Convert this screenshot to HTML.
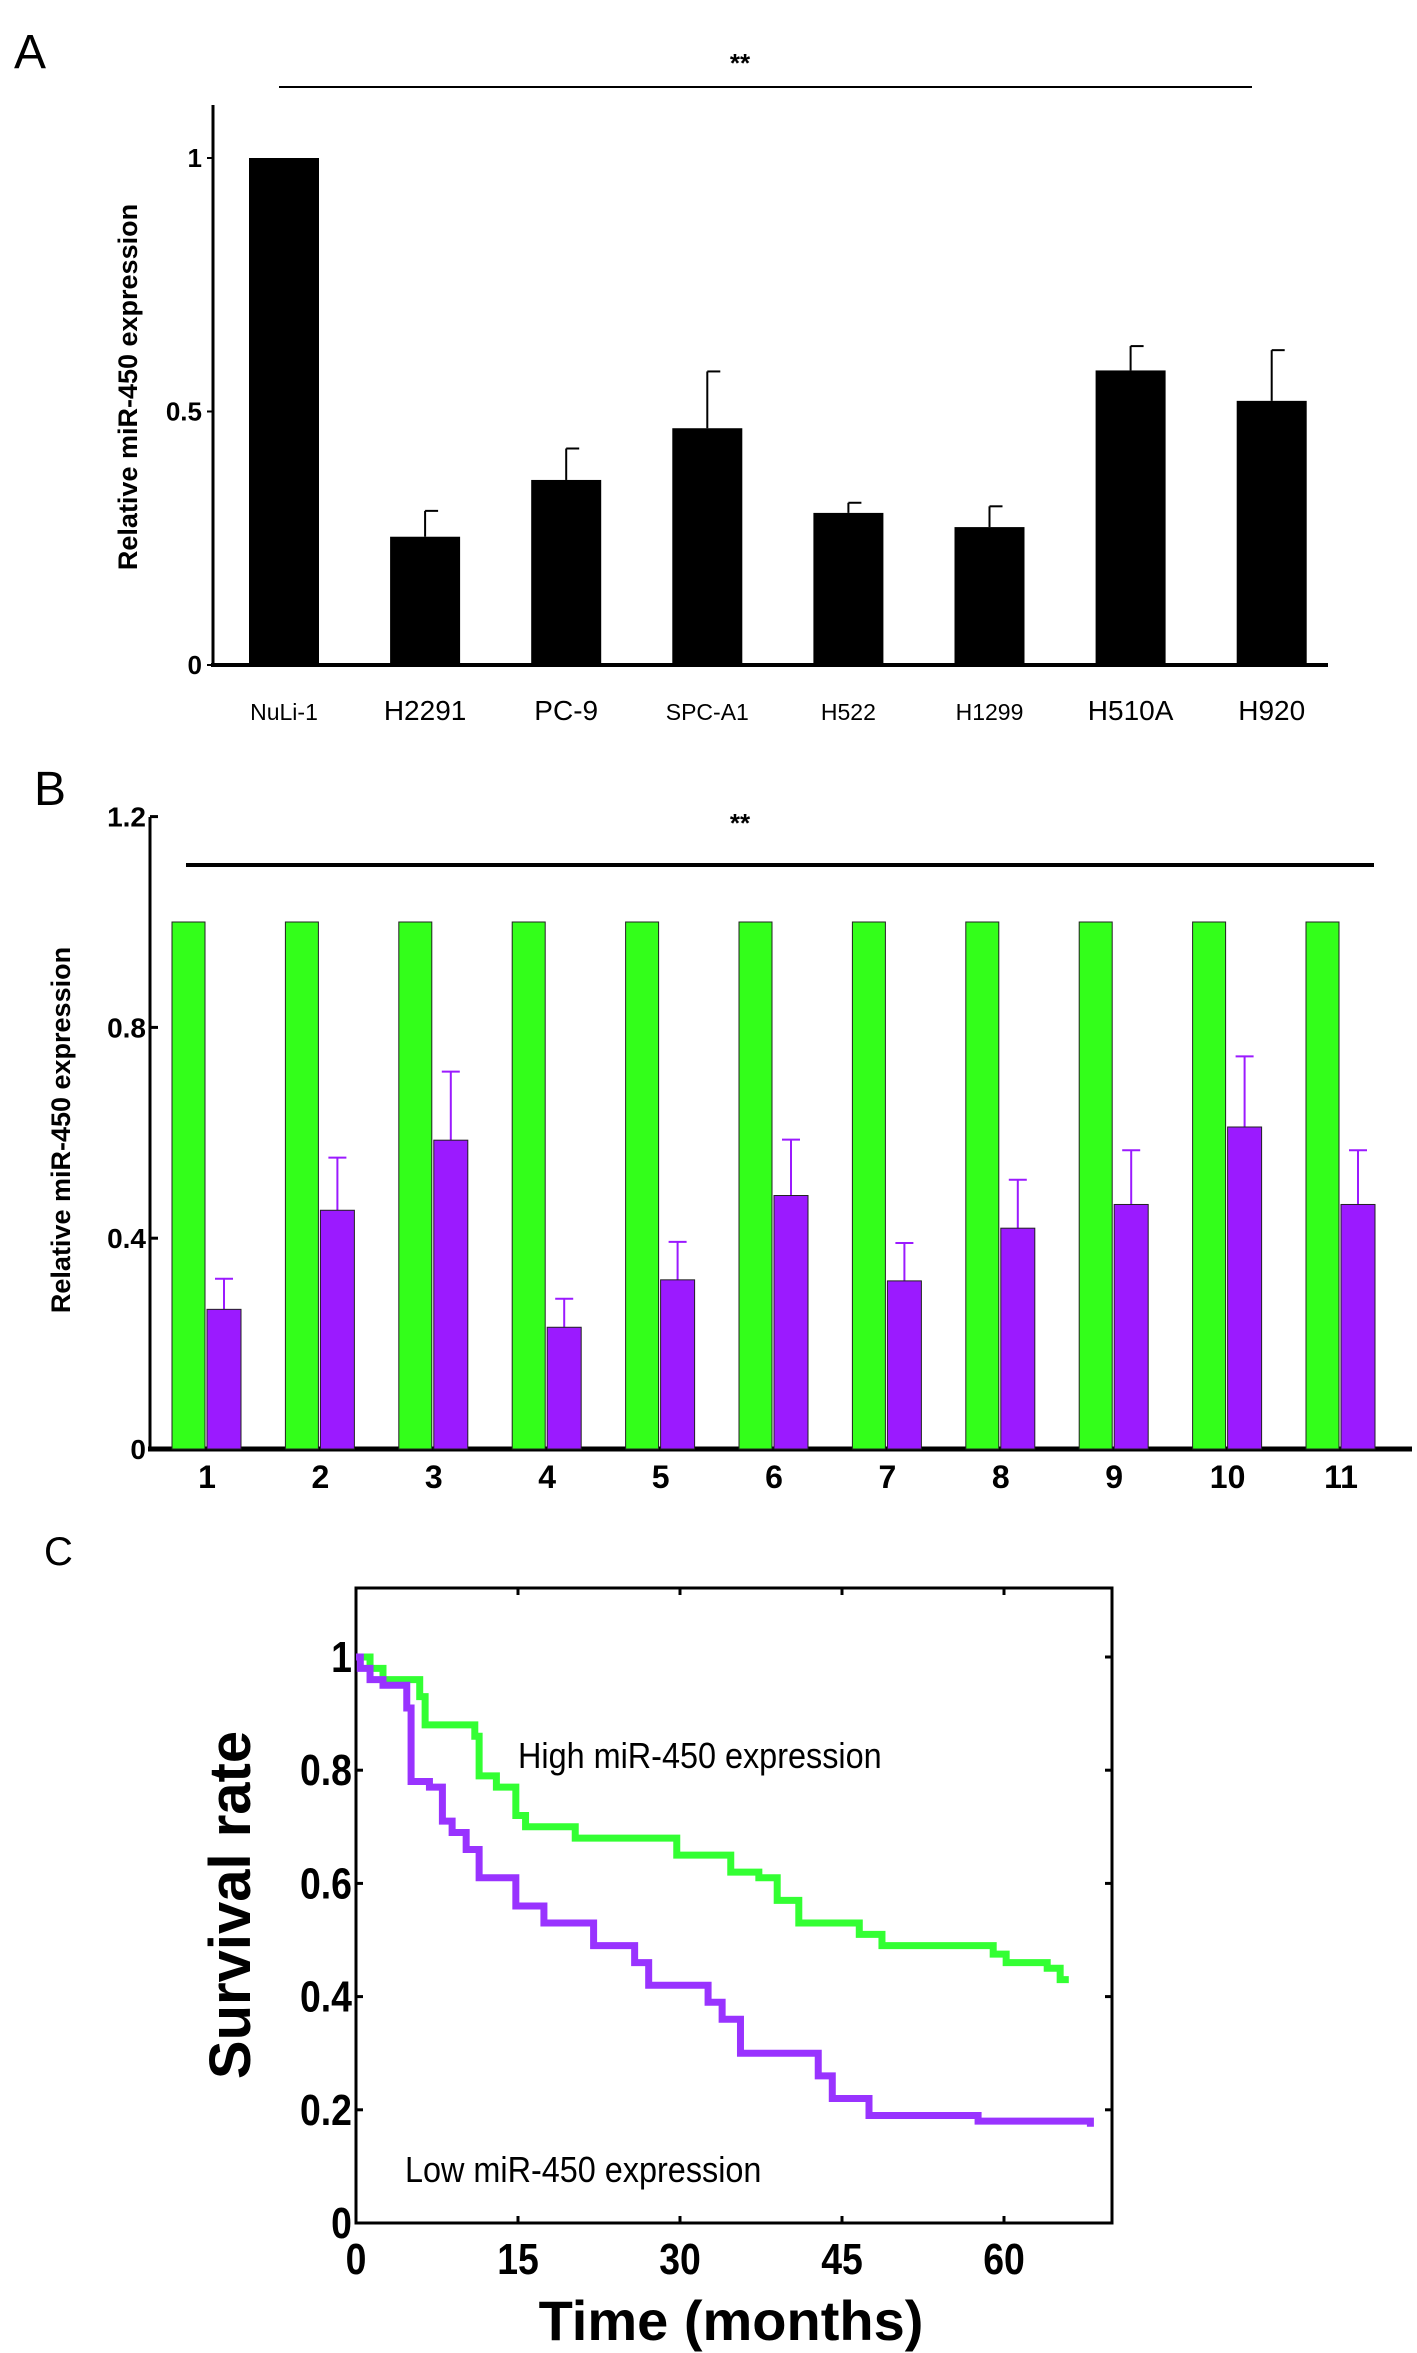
<!DOCTYPE html>
<html><head><meta charset="utf-8"><style>
html,body{margin:0;padding:0;background:#fff}
svg{display:block}
text{font-family:"Liberation Sans",sans-serif}
</style></head><body>
<svg id="fig" width="1417" height="2353" viewBox="0 0 1417 2353">
<g id="pA">
<text x="14" y="68" font-size="48">A</text>
<line x1="279" y1="87" x2="1252" y2="87" stroke="#000" stroke-width="2"/>
<text x="740" y="72" font-size="26" font-weight="bold" text-anchor="middle">**</text>
<text transform="translate(137,387) rotate(-90)" font-size="27" font-weight="bold" text-anchor="middle">Relative miR-450 expression</text>
</g>
<g id="pB">
<text x="34" y="805" font-size="48">B</text>
<line x1="186" y1="865" x2="1374" y2="865" stroke="#000" stroke-width="4"/>
<text x="740" y="832" font-size="26" font-weight="bold" text-anchor="middle">**</text>
<text transform="translate(70,1130) rotate(-90)" font-size="27" font-weight="bold" text-anchor="middle">Relative miR-450 expression</text>
</g>
<g id="pC">
<text x="44" y="1565" font-size="40">C</text>
<text x="518" y="1768" font-size="36" transform="translate(518,0) scale(0.9,1) translate(-518,0)">High miR-450 expression</text>
<text x="405" y="2182" font-size="36" transform="translate(405,0) scale(0.9,1) translate(-405,0)">Low miR-450 expression</text>
<text transform="translate(250,1905) rotate(-90)" font-size="58" font-weight="bold" text-anchor="middle">Survival rate</text>
<text x="731" y="2340" font-size="56" font-weight="bold" text-anchor="middle">Time (months)</text>
</g>
</svg>
<script>
const NS="http://www.w3.org/2000/svg";
const aCats=["NuLi-1","H2291","PC-9","SPC-A1","H522","H1299","H510A","H920"];
const aSmall=[true,false,false,true,true,true,false,false];
const aVals=[1,0.253,0.365,0.467,0.30,0.272,0.581,0.521];
const aErr=[1,0.304,0.427,0.579,0.32,0.313,0.629,0.621];
const aTicks=[0,0.5,1];
const bCats=["1","2","3","4","5","6","7","8","9","10","11"];
const bNormal=[1,1,1,1,1,1,1,1,1,1,1];
const bTumor=[0.265,0.453,0.586,0.231,0.321,0.481,0.319,0.419,0.464,0.611,0.464];
const bErr=[0.323,0.553,0.716,0.285,0.393,0.587,0.391,0.511,0.567,0.745,0.567];
const bTicks=[0,0.4,0.8,1.2];
const highT=[0,1.3,2.5,5.9,6.4,11,11.4,13,14.8,15.7,20.3,29.7,34.7,37.3,39,41,46.6,48.7,59,60.2,64,65.2,66];
const highS=[1,0.98,0.96,0.93,0.88,0.86,0.79,0.77,0.72,0.70,0.68,0.65,0.62,0.61,0.57,0.53,0.51,0.49,0.475,0.46,0.45,0.43,0.43];
const lowT=[0,0.4,1.3,2.5,4.7,5.1,6.8,8,8.9,10.2,11.4,14.8,17.4,22,25.8,27.1,32.6,33.9,35.6,42.8,44.1,47.5,57.6,68];
const lowS=[1,0.98,0.96,0.95,0.91,0.78,0.77,0.71,0.69,0.66,0.61,0.56,0.53,0.49,0.46,0.42,0.39,0.36,0.30,0.26,0.22,0.19,0.18,0.17];
const cXTicks=[0,15,30,45,60];
const cYTicks=[0,0.2,0.4,0.6,0.8,1];
function mk(p,tag,at,txt){const e=document.createElementNS(NS,tag);for(const k in at)e.setAttribute(k,at[k]);if(txt!==undefined)e.textContent=txt;p.appendChild(e);return e;}
// Panel A
const gA=document.getElementById('pA');
const ayA=v=>665-v*507, axA=i=>284+i*141.1;
let e=mk(gA,'line',{x1:213,y1:105,x2:213,y2:665,stroke:'#000','stroke-width':3});

e=mk(gA,'line',{x1:211,y1:665,x2:1328,y2:665,stroke:'#000','stroke-width':4});

aTicks.forEach(t=>{mk(gA,'line',{x1:207,y1:ayA(t),x2:213,y2:ayA(t),stroke:'#000','stroke-width':2});
e=mk(gA,'text',{x:202,y:ayA(t)+9,'font-size':26,'font-weight':'bold','text-anchor':'end'},String(t));
});
aVals.forEach((v,i)=>{const x=axA(i);
if(aErr[i]>v){mk(gA,'line',{x1:x,y1:ayA(v),x2:x,y2:ayA(aErr[i]),stroke:'#000','stroke-width':2});mk(gA,'line',{x1:x,y1:ayA(aErr[i]),x2:x+13,y2:ayA(aErr[i]),stroke:'#000','stroke-width':2});}
e=mk(gA,'rect',{x:x-35,y:ayA(v),width:70,height:665-ayA(v),fill:'#000'});

e=mk(gA,'text',{x:x,y:720,'font-size':aSmall[i]?23:28,'text-anchor':'middle'},aCats[i]);
});
// Panel B
const gB=document.getElementById('pB');
const ayB=v=>1449-v*527, axB=i=>207+i*113.4;
e=mk(gB,'line',{x1:150,y1:817,x2:150,y2:1449,stroke:'#000','stroke-width':3});

e=mk(gB,'line',{x1:148,y1:1449,x2:1412,y2:1449,stroke:'#000','stroke-width':5});

bTicks.forEach(t=>{mk(gB,'line',{x1:150,y1:ayB(t),x2:158,y2:ayB(t),stroke:'#000','stroke-width':3});
e=mk(gB,'text',{x:146,y:ayB(t)+10,'font-size':28,'font-weight':'bold','text-anchor':'end'},String(t));
});
bCats.forEach((c,i)=>{const x=axB(i);
e=mk(gB,'rect',{x:x-35,y:ayB(bNormal[i]),width:33,height:1449-ayB(bNormal[i]),fill:'#33ff1a',stroke:'#222','stroke-width':1});

mk(gB,'line',{x1:x+17,y1:ayB(bTumor[i]),x2:x+17,y2:ayB(bErr[i]),stroke:'#9b1aff','stroke-width':2});
mk(gB,'line',{x1:x+8,y1:ayB(bErr[i]),x2:x+26,y2:ayB(bErr[i]),stroke:'#9b1aff','stroke-width':2});
e=mk(gB,'rect',{x:x,y:ayB(bTumor[i]),width:34,height:1449-ayB(bTumor[i]),fill:'#9b1aff',stroke:'#222','stroke-width':1});

e=mk(gB,'text',{x:x,y:1488,'font-size':32,'font-weight':'bold','text-anchor':'middle'},c);
});
// Panel C
const gC=document.getElementById('pC');
const axC=t=>356+t*10.8, ayC=v=>2223-v*566;
e=mk(gC,'rect',{x:356,y:1588,width:756,height:635,fill:'none',stroke:'#000','stroke-width':3});

cXTicks.forEach(t=>{mk(gC,'line',{x1:axC(t),y1:2223,x2:axC(t),y2:2216,stroke:'#000','stroke-width':3});mk(gC,'line',{x1:axC(t),y1:1588,x2:axC(t),y2:1595,stroke:'#000','stroke-width':3});
e=mk(gC,'text',{x:axC(t),y:2274,'font-size':44,'font-weight':'bold','text-anchor':'middle',transform:'translate('+axC(t)+',0) scale(0.85,1) translate('+(-axC(t))+',0)'},String(t));
});
cYTicks.forEach(t=>{mk(gC,'line',{x1:356,y1:ayC(t),x2:363,y2:ayC(t),stroke:'#000','stroke-width':3});mk(gC,'line',{x1:1112,y1:ayC(t),x2:1105,y2:ayC(t),stroke:'#000','stroke-width':3});
e=mk(gC,'text',{x:352,y:ayC(t)+15,'font-size':44,'font-weight':'bold','text-anchor':'end',transform:'translate(352,0) scale(0.85,1) translate(-352,0)'},String(t));
});
function steps(T,S){let d='M'+axC(T[0])+','+ayC(S[0]);for(let i=1;i<T.length;i++){d+=' H'+axC(T[i])+' V'+ayC(S[i]);}return d;}
e=mk(gC,'path',{d:steps(highT,highS),fill:'none',stroke:'#33ff33','stroke-width':7});

e=mk(gC,'path',{d:steps(lowT,lowS),fill:'none',stroke:'#9933ff','stroke-width':7});

</script>
</body></html>
